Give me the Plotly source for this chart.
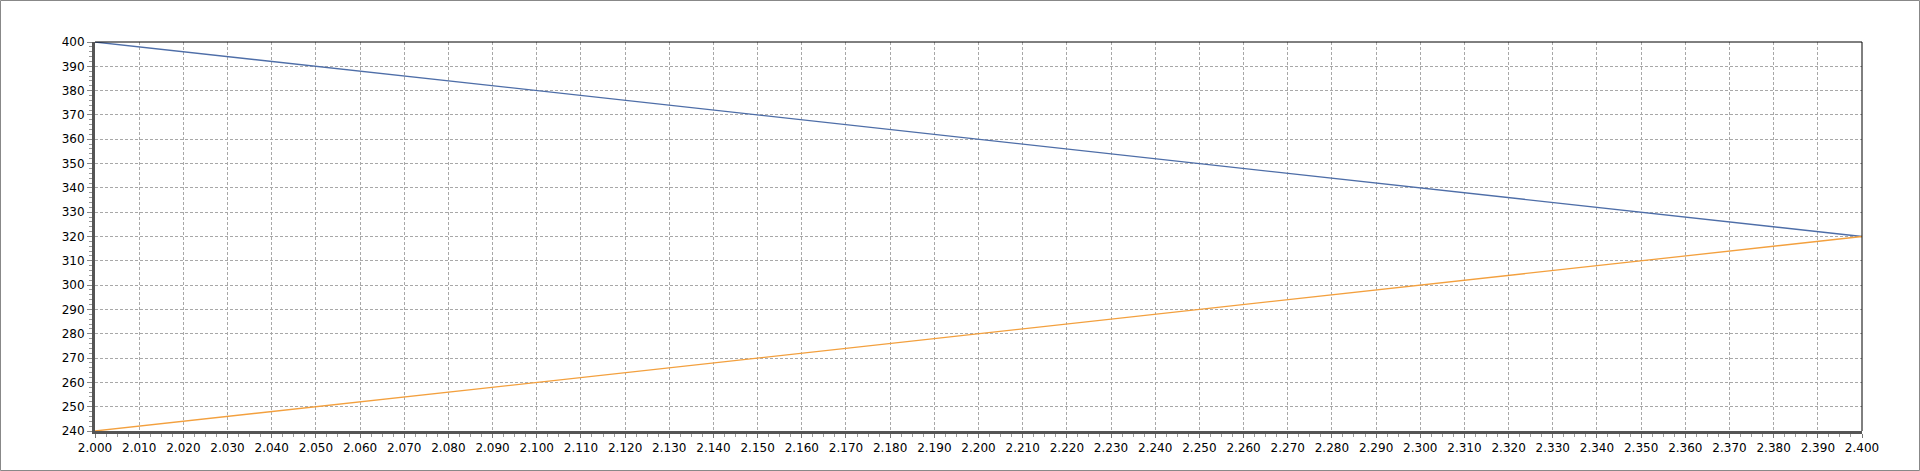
import plotly.graph_objects as go

x_vals = [2.00, 2.05, 2.10, 2.15, 2.20, 2.25, 2.30, 2.35, 2.40]
blue_vals = [400, 390, 380, 370, 360, 350, 340, 330, 320]
orange_vals = [240, 250, 260, 270, 280, 290, 300, 310, 320]

W, H = 1920, 471
L, R, T, B = 95, 58, 42, 40
pw, ph = W - L - R, H - T - B

fig = go.Figure()
fig.add_trace(go.Scatter(x=x_vals, y=blue_vals, mode="lines",
                         line=dict(color="#4e6ea8", width=1.3), showlegend=False))
fig.add_trace(go.Scatter(x=x_vals, y=orange_vals, mode="lines",
                         line=dict(color="#f3a03e", width=1.3), showlegend=False))

grid = dict(showgrid=True, gridcolor="#a8a8a8", gridwidth=1, griddash="3px,2px")
font = dict(family="DejaVu Sans", size=12, color="#000")

fig.update_xaxes(range=[2.0, 2.4], dtick=0.01, tick0=2.0, tickformat=".3f",
                 showline=True, linecolor="#555", linewidth=3,
                 ticks="outside", ticklen=4, tickcolor="#777",
                 minor=dict(dtick=0.0025, ticks="outside", ticklen=3, tickcolor="#999", showgrid=False),
                 tickfont=font, zeroline=False, **grid)
fig.update_yaxes(range=[240, 400], dtick=10, tick0=240,
                 showline=True, linecolor="#555", linewidth=3,
                 ticks="outside", ticklen=5, tickcolor="#888",
                 minor=dict(dtick=2, ticks="outside", ticklen=3, tickcolor="#999", showgrid=False),
                 tickfont=font, zeroline=False, **grid)

shapes = [
    dict(type="line", xref="paper", yref="paper", x0=0, x1=1, y0=1, y1=1,
         line=dict(color="#000", width=1)),
    dict(type="line", xref="paper", yref="paper", x0=1, x1=1, y0=0, y1=1,
         line=dict(color="#000", width=1)),
    dict(type="rect", xref="paper", yref="paper",
         x0=(-L + 0.5) / pw, x1=(pw + R - 0.5) / pw,
         y0=(-B + 0.5) / ph, y1=(ph + T - 0.5) / ph,
         line=dict(color="#888", width=1)),
]

fig.update_layout(width=W, height=H, margin=dict(l=L, r=R, t=T, b=B),
                  paper_bgcolor="white", plot_bgcolor="white",
                  shapes=shapes, showlegend=False)

fig.write_html("out.html", config={"displayModeBar": False},
               post_script="document.body.style.margin='0';document.body.style.overflow='hidden';")
